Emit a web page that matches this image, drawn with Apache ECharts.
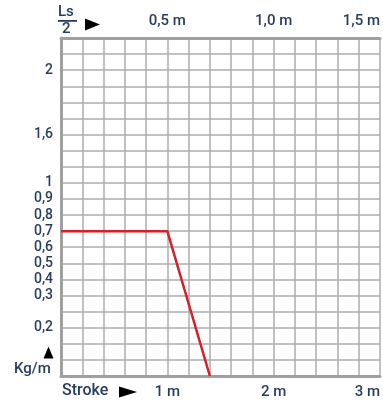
<!DOCTYPE html>
<html>
<head>
<meta charset="utf-8">
<script src="https://cdn.jsdelivr.net/npm/echarts@6/dist/echarts.min.js"></script>
<style>
  html, body { margin: 0; padding: 0; background: #fff; }
  #chart { width: 383px; height: 402px; }
</style>
</head>
<body>
<div id="chart"></div>
<script>
// Weight scale (kg/m) is printed on a non-uniform ruling: one label per grid row, bottom row first.
const weightRows = ['', '', '', '0,2', '', '0,3', '0,4', '0,5', '0,6', '0,7', '0,8', '0,9', '1', '', '', '1,6', '', '', '', '2', '', ''];

// Stroke axis (bottom) and Ls/2 axis (top)
const strokeTicks = [1, 2, 3];
const strokeTickLabels = ['1 m', '2 m', '3 m'];
const halfTicks = [0.5, 1.0, 1.5];
const halfTickLabels = ['0,5 m', '1,0 m', '1,5 m'];

// Load curve: stroke (m) against permitted weight per metre
const curveStroke = [0, 1, 1.4];
const curveWeight = ['0,7', '0,7', null]; // null: runs down to the floor of the scale

const INK = '#283c62';
const FONT = 'Roboto';

function tickLabel(ticks, labels) {
  return function (v) {
    for (let i = 0; i < ticks.length; i++) {
      if (Math.abs(ticks[i] - v) < 1e-6) return labels[i];
    }
    return '';
  };
}

const curveData = curveStroke.map(function (s, i) {
  const w = curveWeight[i];
  return [s, w === null ? 0 : weightRows.indexOf(w)];
});

const chart = echarts.init(document.getElementById('chart'), null, { renderer: 'canvas' });

const gridColor = '#adadad';
const axisColor = '#a0a0a0';

chart.setOption({
  animation: false,
  backgroundColor: '#ffffff',
  grid: { left: 61, right: 0, top: 38, bottom: 26, containLabel: false },
  xAxis: [
    {
      type: 'value', position: 'bottom', min: 0, max: 3, interval: 0.2,
      axisLine: { show: true, onZero: false, lineStyle: { color: axisColor, width: 3 } },
      axisTick: { show: false },
      splitLine: { show: true, lineStyle: { color: gridColor, width: 1.5 } },
      axisLabel: {
        formatter: tickLabel(strokeTicks, strokeTickLabels),
        color: INK, fontFamily: FONT, fontWeight: 500, fontSize: 15, margin: 9,
        alignMaxLabel: 'right', showMinLabel: true, showMaxLabel: true
      }
    },
    {
      type: 'value', position: 'top', min: 0, max: 1.5, interval: 0.1,
      axisLine: { show: true, onZero: false, lineStyle: { color: axisColor, width: 3 } },
      axisTick: { show: false },
      splitLine: { show: false },
      axisLabel: {
        formatter: tickLabel(halfTicks, halfTickLabels),
        color: INK, fontFamily: FONT, fontWeight: 500, fontSize: 15, margin: 9,
        alignMaxLabel: 'right', showMinLabel: true, showMaxLabel: true
      }
    }
  ],
  yAxis: {
    type: 'value', min: 0, max: weightRows.length - 1, interval: 1,
    axisLine: { show: true, onZero: false, lineStyle: { color: axisColor, width: 3 } },
    axisTick: { show: false },
    splitLine: { show: true, lineStyle: { color: gridColor, width: 1.5 } },
    axisLabel: {
      formatter: function (v) { return weightRows[Math.round(v)] || ''; },
      color: INK, fontFamily: FONT, fontWeight: 500, fontSize: 14, margin: 8
    }
  },
  series: [
    {
      type: 'line',
      xAxisIndex: 0,
      data: curveData,
      showSymbol: false,
      symbol: 'none',
      lineStyle: { color: '#d42029', width: 2.5 },
      z: 5
    }
  ],
  graphic: [
    // Ls/2 fraction at the start of the top scale
    { type: 'text', left: 58, top: 5, style: { text: 'Ls', fill: INK, font: '500 15px ' + FONT } },
    { type: 'rect', shape: { x: 58, y: 20, width: 19, height: 1.8 }, style: { fill: INK } },
    { type: 'text', left: 62, top: 22, style: { text: '2', fill: INK, font: '500 15px ' + FONT } },
    { type: 'polygon', shape: { points: [[85, 18.5], [100, 24.5], [85, 30.5]] }, style: { fill: '#000' } },
    // Stroke caption on the bottom scale
    { type: 'text', left: 62, top: 383, style: { text: 'Stroke', fill: INK, font: '500 16px ' + FONT } },
    { type: 'polygon', shape: { points: [[119, 386.5], [137, 392], [119, 397.5]] }, style: { fill: '#000' } },
    // Weight caption on the left scale
    { type: 'polygon', shape: { points: [[43.5, 358.5], [48.5, 346.5], [53.5, 358.5]] }, style: { fill: '#000' } },
    { type: 'text', left: 14, top: 362, style: { text: 'Kg/m', fill: INK, font: '500 15px ' + FONT } }
  ]
});
</script>
</body>
</html>
